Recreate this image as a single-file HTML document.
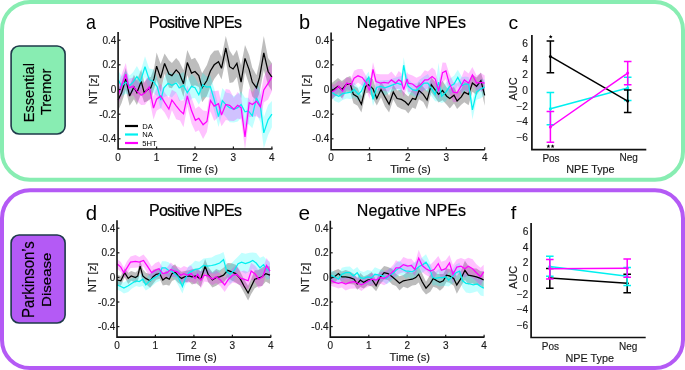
<!DOCTYPE html>
<html><head><meta charset="utf-8"><style>
html,body{margin:0;padding:0;background:#fff;overflow:hidden;width:685px;height:370px;}
svg{display:block;font-family:"Liberation Sans", sans-serif;will-change:transform;}
</style></head><body>
<svg width="685" height="370" viewBox="0 0 685 370">
<rect width="685" height="370" fill="#fff"/>
<rect x="2" y="2" width="681" height="177.7" rx="28" ry="28" fill="none" stroke="#88EDB2" stroke-width="4"/>
<rect x="2" y="190.3" width="681" height="177.7" rx="28" ry="28" fill="none" stroke="#B45AF5" stroke-width="4"/>
<rect x="11.1" y="46" width="54" height="88" rx="8" ry="8" fill="#88EDB2" stroke="#1E3A4A" stroke-width="1.6"/>
<rect x="11.1" y="235" width="54" height="88" rx="8" ry="8" fill="#B45AF5" stroke="#1E3A4A" stroke-width="1.6"/>
<text transform="translate(23.00,121.00) rotate(-90) translate(-1.17,10.75) scale(0.983,1)" font-size="14.83" fill="#000" stroke="#000" stroke-width="0.2">Essential</text>
<text transform="translate(41.30,114.80) rotate(-90) translate(-0.29,9.66) scale(1.040,1)" font-size="14.00" fill="#000" stroke="#000" stroke-width="0.2">Tremor</text>
<text transform="translate(22.90,316.70) rotate(-90) translate(-1.19,11.54) scale(0.935,1)" font-size="15.92" fill="#000" stroke="#000" stroke-width="0.2">Parkinson’s</text>
<text transform="translate(41.20,305.70) rotate(-90) translate(-1.20,9.57) scale(1.139,1)" font-size="13.20" fill="#000" stroke="#000" stroke-width="0.2">Disease</text>
<polygon points="118.1,89.2 121.6,82.4 125.8,67.9 129.6,86.3 133.9,74.8 136.9,80.3 141.2,69.5 144.2,82.8 147.7,78.0 150.8,77.1 154.2,67.6 156.6,52.5 160.6,64.1 164.6,53.4 168.9,60.3 171.9,62.9 176.2,58.1 179.2,61.6 183.5,70.3 187.3,50.1 191.5,59.4 195.0,57.8 198.8,64.2 202.1,73.3 206.9,64.9 210.4,55.3 214.2,50.7 218.5,50.3 221.5,57.0 225.8,35.9 229.6,50.4 233.1,55.9 236.9,49.8 241.1,65.6 245.0,44.9 249.2,55.0 252.3,67.7 256.5,75.2 259.6,61.7 263.8,35.9 268.1,58.1 271.9,63.3 271.9,91.1 268.1,84.9 263.8,69.9 259.6,92.6 256.5,100.4 252.3,96.5 249.2,84.8 245.0,72.0 241.1,98.6 236.9,77.0 233.1,82.2 229.6,83.0 225.8,60.1 221.5,79.6 218.5,73.2 214.2,79.0 210.4,86.7 206.9,96.1 202.1,102.2 198.8,86.9 195.0,85.2 191.5,86.8 187.3,75.1 183.5,97.1 179.2,84.6 176.2,81.7 171.9,88.2 168.9,87.6 164.6,73.4 160.6,92.0 156.6,79.7 154.2,88.7 150.8,98.7 147.7,101.0 144.2,102.6 141.2,93.2 136.9,105.1 133.9,99.3 129.6,105.7 125.8,89.9 121.6,103.0 118.1,110.7" fill="#000000" fill-opacity="0.26" stroke="none"/>
<polygon points="118.1,70.2 121.6,76.4 125.8,70.8 129.6,75.6 133.1,72.2 136.9,66.1 140.4,72.3 145.0,56.3 149.2,68.6 153.5,69.6 157.3,77.9 160.8,89.9 163.9,78.6 168.1,71.0 171.9,73.5 176.2,73.5 179.2,74.5 183.5,72.0 187.3,80.5 191.5,74.1 195.0,77.3 198.8,84.9 202.7,72.8 206.5,76.8 210.4,75.8 214.2,88.4 218.5,106.2 222.3,88.0 226.5,92.8 229.6,93.3 233.8,96.3 237.7,94.0 241.1,91.4 245.0,97.8 248.4,97.8 252.3,103.5 256.5,82.0 260.4,90.0 263.8,117.4 268.1,105.0 271.9,101.0 271.9,127.3 268.1,134.9 263.8,148.4 260.4,122.3 256.5,114.0 252.3,128.3 248.4,124.1 245.0,125.9 241.1,117.7 237.7,121.5 233.8,122.4 229.6,122.2 226.5,117.7 222.3,112.9 218.5,127.0 214.2,110.8 210.4,97.6 206.5,97.3 202.7,97.1 198.8,104.7 195.0,98.0 191.5,98.5 187.3,105.0 183.5,98.9 179.2,101.2 176.2,92.4 171.9,97.4 168.1,95.6 163.9,97.2 160.8,110.1 157.3,96.2 153.5,93.1 149.2,90.6 145.0,77.1 140.4,90.5 136.9,87.0 133.1,92.3 129.6,95.3 125.8,93.4 121.6,96.2 118.1,89.1" fill="#00FFFF" fill-opacity="0.24" stroke="none"/>
<polygon points="118.1,84.4 121.6,74.6 125.8,63.1 128.9,78.8 133.1,77.6 136.9,80.9 141.2,85.3 145.0,80.6 149.2,75.3 153.5,96.6 156.6,87.8 160.8,84.0 164.6,92.5 168.9,97.7 171.9,89.7 176.2,92.3 180.0,100.6 183.5,100.5 187.3,85.8 191.5,97.5 195.4,108.7 198.8,106.3 203.1,110.6 206.9,111.1 210.4,89.7 214.2,91.3 218.5,90.6 221.5,103.8 225.8,89.0 229.6,89.8 233.8,97.8 237.7,92.1 241.1,95.9 245.0,124.1 249.2,88.3 252.3,92.3 256.5,86.1 260.4,95.0 263.8,77.3 268.1,67.3 271.9,63.2 271.9,91.2 268.1,99.4 263.8,102.5 260.4,118.8 256.5,116.3 252.3,116.8 249.2,117.3 245.0,149.8 241.1,119.6 237.7,118.5 233.8,120.9 229.6,120.7 225.8,120.1 221.5,126.2 218.5,116.7 214.2,120.9 210.4,111.2 206.9,132.0 203.1,138.9 198.8,130.3 195.4,131.9 191.5,123.6 187.3,106.3 183.5,127.3 180.0,120.6 176.2,119.3 171.9,110.2 168.9,120.3 164.6,112.4 160.8,108.0 156.6,110.7 153.5,119.6 149.2,98.8 145.0,104.8 141.2,105.1 136.9,101.3 133.1,95.0 128.9,97.0 125.8,85.0 121.6,96.2 118.1,104.4" fill="#FF00FF" fill-opacity="0.24" stroke="none"/>
<polyline points="118.1,100.0 121.6,92.7 125.8,78.9 129.6,96.0 133.9,87.0 136.9,92.7 141.2,81.4 144.2,92.7 147.7,89.5 150.8,87.9 154.2,78.2 156.6,66.1 160.6,78.0 164.6,63.4 168.9,74.0 171.9,75.6 176.2,69.9 179.2,73.1 183.5,83.7 187.3,62.6 191.5,73.1 195.0,71.5 198.8,75.6 202.1,87.8 206.9,80.5 210.4,71.0 214.2,64.8 218.5,61.8 221.5,68.3 225.8,48.0 229.6,66.7 233.1,69.0 236.9,63.4 241.1,82.1 245.0,58.4 249.2,69.9 252.3,82.1 256.5,87.8 259.6,77.2 263.8,52.9 268.1,71.5 271.9,77.2" fill="none" stroke="#000000" stroke-width="1.25" stroke-linejoin="miter" stroke-miterlimit="3"/>
<polyline points="118.1,79.6 121.6,86.3 125.8,82.1 129.6,85.4 133.1,82.2 136.9,76.6 140.4,81.4 145.0,66.7 149.2,79.6 153.5,81.4 157.3,87.0 160.8,100.0 163.9,87.9 168.1,83.3 171.9,85.4 176.2,83.0 179.2,87.9 183.5,85.4 187.3,92.7 191.5,86.3 195.0,87.7 198.8,94.8 202.7,84.9 206.5,87.0 210.4,86.7 214.2,99.6 218.5,116.6 222.3,100.5 226.5,105.3 229.6,107.7 233.8,109.3 237.7,107.7 241.1,104.5 245.0,111.8 248.4,110.9 252.3,115.9 256.5,98.0 260.4,106.1 263.8,132.9 268.1,119.9 271.9,114.2" fill="none" stroke="#00F0F0" stroke-width="1.25" stroke-linejoin="miter" stroke-miterlimit="3"/>
<polyline points="118.1,94.4 121.6,85.4 125.8,74.1 128.9,87.9 133.1,86.3 136.9,91.1 141.2,95.2 145.0,92.7 149.2,87.0 153.5,108.1 156.6,99.2 160.8,96.0 164.6,102.4 168.9,109.0 171.9,100.0 176.2,105.8 180.0,110.6 183.5,113.9 187.3,96.0 191.5,110.6 195.4,120.3 198.8,118.3 203.1,124.7 206.9,121.5 210.4,100.5 214.2,106.1 218.5,103.7 221.5,115.0 225.8,104.5 229.6,105.3 233.8,109.3 237.7,105.3 241.1,107.7 245.0,137.0 249.2,102.8 252.3,104.5 256.5,101.2 260.4,106.9 263.8,89.9 268.1,83.3 271.9,77.2" fill="none" stroke="#FF00FF" stroke-width="1.25" stroke-linejoin="miter" stroke-miterlimit="3"/>
<path d="M118.1,32.0 V149.0 H272.5" fill="none" stroke="#111" stroke-width="1.6"/>
<line x1="118.1" x2="120.5" y1="40.2" y2="40.2" stroke="#1a1a1a" stroke-width="1.2"/>
<line x1="118.1" x2="120.5" y1="64.8" y2="64.8" stroke="#1a1a1a" stroke-width="1.2"/>
<line x1="118.1" x2="120.5" y1="89.5" y2="89.5" stroke="#1a1a1a" stroke-width="1.2"/>
<line x1="118.1" x2="120.5" y1="114.2" y2="114.2" stroke="#1a1a1a" stroke-width="1.2"/>
<line x1="118.1" x2="120.5" y1="138.8" y2="138.8" stroke="#1a1a1a" stroke-width="1.2"/>
<line x1="156.6" x2="156.6" y1="149.0" y2="146.6" stroke="#1a1a1a" stroke-width="1.2"/>
<line x1="195.0" x2="195.0" y1="149.0" y2="146.6" stroke="#1a1a1a" stroke-width="1.2"/>
<line x1="233.4" x2="233.4" y1="149.0" y2="146.6" stroke="#1a1a1a" stroke-width="1.2"/>
<line x1="271.9" x2="271.9" y1="149.0" y2="146.6" stroke="#1a1a1a" stroke-width="1.2"/>
<text x="116.4" y="43.7" font-size="10" text-anchor="end" fill="#1a1a1a" stroke="#1a1a1a" stroke-width="0.15">0.4</text>
<text x="116.4" y="68.3" font-size="10" text-anchor="end" fill="#1a1a1a" stroke="#1a1a1a" stroke-width="0.15">0.2</text>
<text x="116.4" y="93.0" font-size="10" text-anchor="end" fill="#1a1a1a" stroke="#1a1a1a" stroke-width="0.15">0</text>
<text x="116.4" y="117.7" font-size="10" text-anchor="end" fill="#1a1a1a" stroke="#1a1a1a" stroke-width="0.15">-0.2</text>
<text x="116.4" y="142.3" font-size="10" text-anchor="end" fill="#1a1a1a" stroke="#1a1a1a" stroke-width="0.15">-0.4</text>
<text x="118.1" y="160.7" font-size="10" text-anchor="middle" fill="#1a1a1a" stroke="#1a1a1a" stroke-width="0.15">0</text>
<text x="156.6" y="160.7" font-size="10" text-anchor="middle" fill="#1a1a1a" stroke="#1a1a1a" stroke-width="0.15">1</text>
<text x="195.0" y="160.7" font-size="10" text-anchor="middle" fill="#1a1a1a" stroke="#1a1a1a" stroke-width="0.15">2</text>
<text x="233.4" y="160.7" font-size="10" text-anchor="middle" fill="#1a1a1a" stroke="#1a1a1a" stroke-width="0.15">3</text>
<text x="271.9" y="160.7" font-size="10" text-anchor="middle" fill="#1a1a1a" stroke="#1a1a1a" stroke-width="0.15">4</text>
<text x="197.6" y="173.1" font-size="11.2" text-anchor="middle" fill="#1a1a1a" stroke="#1a1a1a" stroke-width="0.15">Time (s)</text>
<text transform="translate(96.6,89.5) rotate(-90)" font-size="11.2" text-anchor="middle" fill="#1a1a1a" stroke="#1a1a1a" stroke-width="0.15">NT [z]</text>
<text x="148.92" y="27.70" font-size="16" letter-spacing="-0.685" fill="#000" stroke="#000" stroke-width="0.2">Positive NPEs</text>
<text transform="translate(86.09,28.61) scale(0.918,1)" font-size="19.45" fill="#000" >a</text>
<line x1="125" x2="138" y1="126.0" y2="126.0" stroke="#000000" stroke-width="2.2"/>
<text x="142.3" y="128.8" font-size="7.6" fill="#000">DA</text>
<line x1="125" x2="138" y1="134.5" y2="134.5" stroke="#00F0F0" stroke-width="2.2"/>
<text x="142.3" y="137.3" font-size="7.6" fill="#000">NA</text>
<line x1="125" x2="138" y1="143.0" y2="143.0" stroke="#FF00FF" stroke-width="2.2"/>
<text x="142.3" y="145.8" font-size="7.6" fill="#000">5HT</text>
<polygon points="331.1,83.6 334.6,80.8 338.0,78.1 341.9,81.0 346.1,77.7 350.3,75.9 353.4,85.5 357.6,88.0 361.4,96.2 365.7,79.3 368.7,76.9 373.0,79.3 376.8,91.5 381.0,82.0 384.9,87.3 389.1,96.1 393.3,84.6 397.1,90.6 401.4,89.6 405.2,93.7 408.3,96.6 412.5,89.4 415.6,89.6 419.0,81.7 423.3,86.9 427.1,90.9 431.3,77.2 434.4,81.0 438.6,86.3 442.5,80.7 446.7,87.6 449.8,88.6 454.0,87.1 457.1,92.8 461.3,89.0 464.3,81.8 468.6,83.6 472.4,74.4 476.6,77.5 480.9,72.5 484.7,84.9 484.7,105.7 480.9,88.7 476.6,95.1 472.4,91.8 468.6,105.3 464.3,102.3 461.3,104.8 457.1,109.1 454.0,103.5 449.8,108.4 446.7,104.7 442.5,100.3 438.6,102.5 434.4,96.5 431.3,92.2 427.1,109.3 423.3,102.0 419.0,99.3 415.6,109.1 412.5,107.6 408.3,113.4 405.2,109.9 401.4,109.1 397.1,106.4 393.3,99.6 389.1,112.5 384.9,106.5 381.0,97.3 376.8,105.5 373.0,98.3 368.7,92.4 365.7,93.3 361.4,112.4 357.6,105.8 353.4,103.3 350.3,92.0 346.1,91.7 341.9,98.3 338.0,94.5 334.6,96.7 331.1,100.6" fill="#000000" fill-opacity="0.26" stroke="none"/>
<polygon points="331.1,85.8 334.6,87.8 338.8,89.6 342.6,87.4 346.8,87.1 351.1,84.9 354.1,82.2 358.4,87.8 361.4,84.6 364.9,77.0 368.7,71.6 373.0,92.8 376.8,80.1 381.0,80.4 384.9,80.1 389.1,79.9 393.3,78.2 397.1,77.1 401.4,76.1 403.7,57.3 406.7,73.7 408.3,78.6 412.5,83.4 416.7,83.4 419.8,79.6 424.0,76.5 427.9,74.1 432.1,82.2 435.2,87.6 438.6,62.8 441.7,89.3 445.9,82.8 449.8,78.4 454.0,75.7 457.8,69.7 462.0,77.3 465.1,76.6 468.6,77.0 472.4,100.3 476.6,84.4 480.9,79.3 484.7,79.4 484.7,94.9 480.9,98.2 476.6,99.8 472.4,119.4 468.6,90.9 465.1,91.3 462.0,93.8 457.8,85.2 454.0,92.2 449.8,94.2 445.9,101.3 441.7,103.0 438.6,101.4 435.2,101.3 432.1,97.0 427.9,92.1 424.0,89.7 419.8,94.7 416.7,97.6 412.5,95.8 408.3,94.0 406.7,90.5 403.7,73.2 401.4,93.3 397.1,89.1 393.3,91.2 389.1,92.7 384.9,95.7 381.0,92.2 376.8,94.3 373.0,105.9 368.7,82.7 364.9,89.2 361.4,97.9 358.4,101.1 354.1,96.8 351.1,99.3 346.8,98.6 342.6,100.0 338.8,102.7 334.6,101.1 331.1,96.6" fill="#00FFFF" fill-opacity="0.24" stroke="none"/>
<polygon points="331.1,84.2 334.6,84.5 338.8,80.6 342.6,83.0 346.8,76.9 351.1,78.6 354.1,70.7 358.0,69.0 362.2,69.1 366.4,76.5 369.5,81.9 373.0,62.3 376.0,73.7 380.3,74.3 384.1,74.2 388.3,74.2 391.4,71.6 395.6,76.5 398.7,70.9 401.4,73.3 403.7,82.2 407.1,71.9 408.3,74.1 412.5,75.6 416.5,77.7 420.6,75.7 424.8,70.2 427.9,71.4 432.1,67.6 435.2,70.2 438.6,83.5 442.5,62.6 445.9,62.8 449.0,72.8 453.2,81.9 457.1,83.5 461.3,77.8 464.3,69.9 468.6,73.6 472.4,66.9 476.6,75.5 480.9,73.1 484.7,75.4 484.7,90.8 480.9,91.6 476.6,90.7 472.4,83.0 468.6,92.6 464.3,89.8 461.3,93.3 457.1,102.1 453.2,102.3 449.0,91.9 445.9,78.9 442.5,82.6 438.6,99.0 435.2,87.8 432.1,85.6 427.9,88.4 424.8,89.5 420.6,93.7 416.5,96.6 412.5,92.3 408.3,92.1 407.1,86.1 403.7,97.0 401.4,89.7 398.7,88.8 395.6,89.6 391.4,88.2 388.3,92.0 384.1,90.5 380.3,91.8 376.0,89.3 373.0,76.3 369.5,99.1 366.4,89.7 362.2,85.7 358.0,82.6 354.1,85.8 351.1,90.8 346.8,89.3 342.6,99.4 338.8,92.0 334.6,96.4 331.1,100.0" fill="#FF00FF" fill-opacity="0.24" stroke="none"/>
<polyline points="331.1,92.1 334.6,88.8 338.0,86.3 341.9,89.6 346.1,84.7 350.3,84.0 353.4,94.4 357.6,96.9 361.4,104.3 365.7,86.3 368.7,84.7 373.0,88.8 376.8,98.5 381.0,89.6 384.9,96.9 389.1,104.3 393.3,92.1 397.1,98.5 401.4,99.4 405.2,101.8 408.3,105.0 412.5,98.5 415.6,99.4 419.0,90.5 423.3,94.4 427.1,100.1 431.3,84.7 434.4,88.8 438.6,94.4 442.5,90.5 446.7,96.2 449.8,98.5 454.0,95.3 457.1,101.0 461.3,96.9 464.3,92.1 468.6,94.4 472.4,83.1 476.6,86.3 480.9,80.6 484.7,95.3" fill="none" stroke="#000000" stroke-width="1.25" stroke-linejoin="miter" stroke-miterlimit="3"/>
<polyline points="331.1,91.2 334.6,94.4 338.8,96.2 342.6,93.7 346.8,92.8 351.1,92.1 354.1,89.5 358.4,94.4 361.4,91.2 364.9,83.1 368.7,77.2 373.0,99.4 376.8,87.2 381.0,86.3 384.9,87.9 389.1,86.3 393.3,84.7 397.1,83.1 401.4,84.7 403.7,65.2 406.7,82.1 408.3,86.3 412.5,89.6 416.7,90.5 419.8,87.2 424.0,83.1 427.9,83.1 432.1,89.6 435.2,94.4 438.6,82.1 441.7,96.2 445.9,92.1 449.8,86.3 454.0,84.0 457.8,77.4 462.0,85.6 465.1,84.0 468.6,84.0 472.4,109.8 476.6,92.1 480.9,88.8 484.7,87.2" fill="none" stroke="#00F0F0" stroke-width="1.25" stroke-linejoin="miter" stroke-miterlimit="3"/>
<polyline points="331.1,92.1 334.6,90.5 338.8,86.3 342.6,91.2 346.8,83.1 351.1,84.7 354.1,78.3 358.0,75.8 362.2,77.4 366.4,83.1 369.5,90.5 373.0,69.3 376.0,81.5 380.3,83.1 384.1,82.4 388.3,83.1 391.4,79.9 395.6,83.1 398.7,79.9 401.4,81.5 403.7,89.6 407.1,79.0 408.3,83.1 412.5,84.0 416.5,87.2 420.6,84.7 424.8,79.9 427.9,79.9 432.1,76.6 435.2,79.0 438.6,91.2 442.5,72.6 445.9,70.9 449.0,82.4 453.2,92.1 457.1,92.8 461.3,85.6 464.3,79.9 468.6,83.1 472.4,75.0 476.6,83.1 480.9,82.4 484.7,83.1" fill="none" stroke="#FF00FF" stroke-width="1.25" stroke-linejoin="miter" stroke-miterlimit="3"/>
<path d="M331.1,32.6 V149.7 H484.8" fill="none" stroke="#111" stroke-width="1.6"/>
<line x1="331.1" x2="333.5" y1="40.2" y2="40.2" stroke="#1a1a1a" stroke-width="1.2"/>
<line x1="331.1" x2="333.5" y1="64.8" y2="64.8" stroke="#1a1a1a" stroke-width="1.2"/>
<line x1="331.1" x2="333.5" y1="89.5" y2="89.5" stroke="#1a1a1a" stroke-width="1.2"/>
<line x1="331.1" x2="333.5" y1="114.2" y2="114.2" stroke="#1a1a1a" stroke-width="1.2"/>
<line x1="331.1" x2="333.5" y1="138.8" y2="138.8" stroke="#1a1a1a" stroke-width="1.2"/>
<line x1="369.5" x2="369.5" y1="149.7" y2="147.3" stroke="#1a1a1a" stroke-width="1.2"/>
<line x1="407.9" x2="407.9" y1="149.7" y2="147.3" stroke="#1a1a1a" stroke-width="1.2"/>
<line x1="446.3" x2="446.3" y1="149.7" y2="147.3" stroke="#1a1a1a" stroke-width="1.2"/>
<line x1="484.7" x2="484.7" y1="149.7" y2="147.3" stroke="#1a1a1a" stroke-width="1.2"/>
<text x="329.4" y="43.7" font-size="10" text-anchor="end" fill="#1a1a1a" stroke="#1a1a1a" stroke-width="0.15">0.4</text>
<text x="329.4" y="68.3" font-size="10" text-anchor="end" fill="#1a1a1a" stroke="#1a1a1a" stroke-width="0.15">0.2</text>
<text x="329.4" y="93.0" font-size="10" text-anchor="end" fill="#1a1a1a" stroke="#1a1a1a" stroke-width="0.15">0</text>
<text x="329.4" y="117.7" font-size="10" text-anchor="end" fill="#1a1a1a" stroke="#1a1a1a" stroke-width="0.15">-0.2</text>
<text x="329.4" y="142.3" font-size="10" text-anchor="end" fill="#1a1a1a" stroke="#1a1a1a" stroke-width="0.15">-0.4</text>
<text x="331.1" y="161.4" font-size="10" text-anchor="middle" fill="#1a1a1a" stroke="#1a1a1a" stroke-width="0.15">0</text>
<text x="369.5" y="161.4" font-size="10" text-anchor="middle" fill="#1a1a1a" stroke="#1a1a1a" stroke-width="0.15">1</text>
<text x="407.9" y="161.4" font-size="10" text-anchor="middle" fill="#1a1a1a" stroke="#1a1a1a" stroke-width="0.15">2</text>
<text x="446.3" y="161.4" font-size="10" text-anchor="middle" fill="#1a1a1a" stroke="#1a1a1a" stroke-width="0.15">3</text>
<text x="484.7" y="161.4" font-size="10" text-anchor="middle" fill="#1a1a1a" stroke="#1a1a1a" stroke-width="0.15">4</text>
<text x="410.5" y="173.1" font-size="11.2" text-anchor="middle" fill="#1a1a1a" stroke="#1a1a1a" stroke-width="0.15">Time (s)</text>
<text transform="translate(309.6,89.5) rotate(-90)" font-size="11.2" text-anchor="middle" fill="#1a1a1a" stroke="#1a1a1a" stroke-width="0.15">NT [z]</text>
<text x="356.82" y="27.70" font-size="16" letter-spacing="0.063" fill="#000" stroke="#000" stroke-width="0.2">Negative NPEs</text>
<text transform="translate(298.90,28.80) scale(1.021,1)" font-size="19.59" fill="#000" >b</text>
<polygon points="117.0,274.7 120.8,276.0 124.7,268.3 128.2,272.7 131.2,271.0 135.5,272.6 137.8,270.5 140.1,260.2 142.8,269.2 145.8,272.7 150.1,273.9 153.1,269.8 156.2,268.8 159.7,268.4 162.8,274.6 166.2,270.6 169.3,272.7 172.0,266.2 175.1,264.3 178.1,269.0 181.6,271.7 184.7,271.1 188.9,270.3 192.0,269.2 196.2,268.6 200.8,271.5 205.1,258.9 208.1,266.7 212.4,272.3 216.2,269.0 219.7,270.4 223.5,267.7 227.7,263.1 231.6,263.2 235.8,264.7 240.0,271.2 243.9,279.0 248.1,285.7 251.2,278.9 254.7,270.2 257.7,270.3 262.0,267.6 265.8,265.7 270.0,266.5 270.0,283.9 265.8,281.5 262.0,286.0 257.7,286.4 254.7,288.3 251.2,294.1 248.1,300.4 243.9,292.6 240.0,285.6 235.8,282.5 231.6,280.5 227.7,277.4 223.5,282.7 219.7,283.2 216.2,285.8 212.4,287.6 208.1,282.0 205.1,273.5 200.8,287.0 196.2,283.3 192.0,284.4 188.9,281.5 184.7,282.4 181.6,285.1 178.1,282.8 175.1,279.4 172.0,280.9 169.3,285.8 166.2,284.7 162.8,285.4 159.7,278.8 156.2,279.8 153.1,283.8 150.1,287.8 145.8,284.1 142.8,282.7 140.1,272.2 137.8,281.3 135.5,282.7 131.2,280.8 128.2,284.1 124.7,277.2 120.8,285.7 117.0,285.2" fill="#000000" fill-opacity="0.26" stroke="none"/>
<polygon points="117.0,280.3 120.8,281.7 123.9,282.6 128.2,279.6 132.0,278.2 136.2,275.7 139.3,276.1 142.8,272.5 145.8,279.4 148.9,274.7 153.1,271.5 156.2,271.1 159.7,267.6 162.0,261.2 165.4,261.2 168.5,262.2 172.0,265.2 175.1,268.5 178.1,268.6 182.4,279.5 185.4,271.9 188.9,265.8 192.0,264.0 195.1,260.8 199.3,261.8 203.5,258.5 207.4,258.1 211.6,257.4 215.4,255.2 219.7,253.9 223.5,251.9 227.0,264.4 230.0,264.9 234.3,260.2 238.1,256.6 241.6,252.7 245.4,253.8 249.7,252.7 252.7,252.5 256.2,252.9 260.0,257.8 263.5,256.3 266.6,259.7 270.0,261.8 270.0,278.8 266.6,279.4 263.5,272.9 260.0,277.8 256.2,273.1 252.7,268.6 249.7,271.6 245.4,273.7 241.6,271.6 238.1,270.9 234.3,280.3 230.0,283.8 227.0,279.3 223.5,267.5 219.7,272.2 215.4,274.0 211.6,273.6 207.4,274.3 203.5,272.4 199.3,275.5 195.1,278.3 192.0,278.2 188.9,279.7 185.4,284.9 182.4,293.5 178.1,285.0 175.1,280.1 172.0,277.1 168.5,278.3 165.4,274.4 162.0,274.4 159.7,281.0 156.2,282.5 153.1,285.2 148.9,288.5 145.8,290.4 142.8,286.0 139.3,287.1 136.2,286.0 132.0,288.5 128.2,292.0 123.9,293.6 120.8,291.3 117.0,289.5" fill="#00FFFF" fill-opacity="0.24" stroke="none"/>
<polygon points="117.0,259.1 120.8,262.0 123.9,267.5 127.0,261.3 130.5,256.4 135.5,255.1 139.3,257.0 143.5,254.5 147.4,259.3 151.6,266.5 155.4,263.0 158.9,261.5 162.8,267.5 167.0,267.4 170.8,262.4 174.3,265.4 177.4,266.4 180.8,267.9 183.9,265.9 187.4,267.5 191.2,265.5 194.3,271.1 195.1,272.4 197.7,268.2 200.8,271.6 204.3,269.0 208.1,269.5 212.4,273.2 216.2,270.6 220.4,273.7 224.7,277.7 228.5,272.5 232.7,268.0 236.6,265.3 240.8,271.4 243.9,270.4 248.1,272.1 251.2,262.8 255.4,265.9 258.5,270.2 262.7,268.2 266.6,257.9 270.0,263.2 270.0,279.1 266.6,273.1 262.7,285.4 258.5,288.3 255.4,282.7 251.2,279.4 248.1,289.6 243.9,288.1 240.8,285.3 236.6,283.4 232.7,282.4 228.5,286.0 224.7,292.1 220.4,286.3 216.2,283.0 212.4,285.3 208.1,282.3 204.3,281.4 200.8,288.4 197.7,280.4 195.1,284.4 194.3,283.7 191.2,281.7 187.4,282.9 183.9,281.2 180.8,282.5 177.4,277.4 174.3,276.9 170.8,276.7 167.0,278.1 162.8,279.7 158.9,275.9 155.4,277.5 151.6,279.0 147.4,273.1 143.5,266.6 139.3,267.3 135.5,267.8 130.5,267.9 127.0,274.4 123.9,278.0 120.8,272.1 117.0,268.4" fill="#FF00FF" fill-opacity="0.24" stroke="none"/>
<polyline points="117.0,280.0 120.8,280.8 124.7,272.7 128.2,278.4 131.2,275.9 135.5,277.6 137.8,275.9 140.1,266.2 142.8,275.9 145.8,278.4 150.1,280.8 153.1,276.8 156.2,274.3 159.7,273.6 162.8,280.0 166.2,277.6 169.3,279.2 172.0,273.6 175.1,271.9 178.1,275.9 181.6,278.4 184.7,276.8 188.9,275.9 192.0,276.8 196.2,275.9 200.8,279.2 205.1,266.2 208.1,274.3 212.4,280.0 216.2,277.4 219.7,276.8 223.5,275.2 227.7,270.3 231.6,271.9 235.8,273.6 240.0,278.4 243.9,285.8 248.1,293.0 251.2,286.5 254.7,279.2 257.7,278.4 262.0,276.8 265.8,273.6 270.0,275.2" fill="none" stroke="#000000" stroke-width="1.25" stroke-linejoin="miter" stroke-miterlimit="3"/>
<polyline points="117.0,284.9 120.8,286.5 123.9,288.1 128.2,285.8 132.0,283.3 136.2,280.8 139.3,281.6 142.8,279.2 145.8,284.9 148.9,281.6 153.1,278.4 156.2,276.8 159.7,274.3 162.0,267.8 165.4,267.8 168.5,270.3 172.0,271.1 175.1,274.3 178.1,276.8 182.4,286.5 185.4,278.4 188.9,272.7 192.0,271.1 195.1,269.5 199.3,268.7 203.5,265.5 207.4,266.2 211.6,265.5 215.4,264.6 219.7,263.0 223.5,259.7 227.0,271.9 230.0,274.3 234.3,270.3 238.1,263.7 241.6,262.1 245.4,263.7 249.7,262.1 252.7,260.5 256.2,263.0 260.0,267.8 263.5,264.6 266.6,269.5 270.0,270.3" fill="none" stroke="#00F0F0" stroke-width="1.25" stroke-linejoin="miter" stroke-miterlimit="3"/>
<polyline points="117.0,263.7 120.8,267.1 123.9,272.7 127.0,267.8 130.5,262.1 135.5,261.4 139.3,262.1 143.5,260.5 147.4,266.2 151.6,272.7 155.4,270.3 158.9,268.7 162.8,273.6 167.0,272.7 170.8,269.5 174.3,271.1 177.4,271.9 180.8,275.2 183.9,273.6 187.4,275.2 191.2,273.6 194.3,277.4 195.1,278.4 197.7,274.3 200.8,280.0 204.3,275.2 208.1,275.9 212.4,279.2 216.2,276.8 220.4,280.0 224.7,284.9 228.5,279.2 232.7,275.2 236.6,274.3 240.8,278.4 243.9,279.2 248.1,280.8 251.2,271.1 255.4,274.3 258.5,279.2 262.7,276.8 266.6,265.5 270.0,271.1" fill="none" stroke="#FF00FF" stroke-width="1.25" stroke-linejoin="miter" stroke-miterlimit="3"/>
<path d="M117.0,220.3 V337.1 H271.3" fill="none" stroke="#111" stroke-width="1.6"/>
<line x1="117.0" x2="119.4" y1="228.2" y2="228.2" stroke="#1a1a1a" stroke-width="1.2"/>
<line x1="117.0" x2="119.4" y1="252.8" y2="252.8" stroke="#1a1a1a" stroke-width="1.2"/>
<line x1="117.0" x2="119.4" y1="277.4" y2="277.4" stroke="#1a1a1a" stroke-width="1.2"/>
<line x1="117.0" x2="119.4" y1="302.0" y2="302.0" stroke="#1a1a1a" stroke-width="1.2"/>
<line x1="117.0" x2="119.4" y1="326.6" y2="326.6" stroke="#1a1a1a" stroke-width="1.2"/>
<line x1="155.4" x2="155.4" y1="337.1" y2="334.7" stroke="#1a1a1a" stroke-width="1.2"/>
<line x1="193.9" x2="193.9" y1="337.1" y2="334.7" stroke="#1a1a1a" stroke-width="1.2"/>
<line x1="232.4" x2="232.4" y1="337.1" y2="334.7" stroke="#1a1a1a" stroke-width="1.2"/>
<line x1="270.8" x2="270.8" y1="337.1" y2="334.7" stroke="#1a1a1a" stroke-width="1.2"/>
<text x="115.3" y="231.7" font-size="10" text-anchor="end" fill="#1a1a1a" stroke="#1a1a1a" stroke-width="0.15">0.4</text>
<text x="115.3" y="256.3" font-size="10" text-anchor="end" fill="#1a1a1a" stroke="#1a1a1a" stroke-width="0.15">0.2</text>
<text x="115.3" y="280.9" font-size="10" text-anchor="end" fill="#1a1a1a" stroke="#1a1a1a" stroke-width="0.15">0</text>
<text x="115.3" y="305.5" font-size="10" text-anchor="end" fill="#1a1a1a" stroke="#1a1a1a" stroke-width="0.15">-0.2</text>
<text x="115.3" y="330.1" font-size="10" text-anchor="end" fill="#1a1a1a" stroke="#1a1a1a" stroke-width="0.15">-0.4</text>
<text x="117.0" y="348.8" font-size="10" text-anchor="middle" fill="#1a1a1a" stroke="#1a1a1a" stroke-width="0.15">0</text>
<text x="155.4" y="348.8" font-size="10" text-anchor="middle" fill="#1a1a1a" stroke="#1a1a1a" stroke-width="0.15">1</text>
<text x="193.9" y="348.8" font-size="10" text-anchor="middle" fill="#1a1a1a" stroke="#1a1a1a" stroke-width="0.15">2</text>
<text x="232.4" y="348.8" font-size="10" text-anchor="middle" fill="#1a1a1a" stroke="#1a1a1a" stroke-width="0.15">3</text>
<text x="270.8" y="348.8" font-size="10" text-anchor="middle" fill="#1a1a1a" stroke="#1a1a1a" stroke-width="0.15">4</text>
<text x="196.5" y="361.2" font-size="11.2" text-anchor="middle" fill="#1a1a1a" stroke="#1a1a1a" stroke-width="0.15">Time (s)</text>
<text transform="translate(95.5,277.4) rotate(-90)" font-size="11.2" text-anchor="middle" fill="#1a1a1a" stroke="#1a1a1a" stroke-width="0.15">NT [z]</text>
<text x="148.92" y="215.70" font-size="16" letter-spacing="-0.685" fill="#000" stroke="#000" stroke-width="0.2">Positive NPEs</text>
<text transform="translate(85.78,219.51) scale(1.058,1)" font-size="19.32" fill="#000" >d</text>
<polygon points="330.3,272.9 334.5,270.4 338.4,268.9 341.8,271.5 345.7,270.0 349.9,271.4 354.1,274.1 357.2,278.3 360.3,273.0 363.8,276.4 367.6,274.8 371.8,272.0 376.1,280.2 379.9,270.8 384.1,265.9 388.0,267.0 392.2,268.9 396.0,274.0 399.5,276.2 403.4,274.9 407.6,271.8 412.2,273.0 415.7,270.4 418.7,266.2 422.2,273.4 426.0,281.8 430.3,274.8 433.3,269.9 436.8,273.8 439.9,274.1 443.3,273.9 446.4,268.4 449.5,269.1 453.7,271.0 456.8,276.0 461.0,270.5 464.9,260.7 468.3,265.8 472.2,268.5 476.4,268.6 480.6,271.3 483.7,271.2 483.7,288.7 480.6,285.5 476.4,284.9 472.2,283.3 468.3,284.5 464.9,279.8 461.0,286.3 456.8,293.8 453.7,285.7 449.5,282.8 446.4,282.0 443.3,287.8 439.9,290.8 436.8,287.9 433.3,286.8 430.3,291.8 426.0,294.4 422.2,290.0 418.7,282.4 415.7,284.9 412.2,285.4 407.6,288.2 403.4,286.8 399.5,290.4 396.0,286.0 392.2,284.6 388.0,280.1 384.1,279.6 379.9,284.5 376.1,291.3 371.8,286.5 367.6,285.2 363.8,288.5 360.3,286.9 357.2,289.8 354.1,284.4 349.9,283.9 345.7,283.6 341.8,282.1 338.4,278.3 334.5,283.2 330.3,283.8" fill="#000000" fill-opacity="0.26" stroke="none"/>
<polygon points="330.3,269.9 334.5,271.7 338.4,274.2 341.8,267.7 345.7,266.7 349.9,266.4 353.4,269.8 357.2,266.9 360.3,271.0 363.8,272.0 367.6,269.9 371.8,270.9 374.9,267.2 379.1,268.9 383.4,270.2 386.4,272.6 389.5,268.0 393.0,267.7 396.0,263.1 399.5,260.6 402.6,263.7 406.0,263.4 408.4,265.3 412.2,263.8 415.7,261.5 419.5,259.7 423.0,256.7 426.0,254.2 429.5,261.4 432.6,269.7 435.7,271.9 439.1,268.9 442.2,269.4 445.7,267.7 448.7,273.4 453.0,268.6 456.0,264.4 459.5,262.8 462.6,273.7 466.0,274.0 469.9,274.8 473.3,277.2 477.2,276.8 480.6,277.6 483.7,279.9 483.7,296.3 480.6,295.4 477.2,291.3 473.3,292.6 469.9,293.3 466.0,292.6 462.6,288.0 459.5,279.5 456.0,281.0 453.0,283.3 448.7,286.5 445.7,285.9 442.2,285.9 439.1,286.4 435.7,284.9 432.6,285.6 429.5,274.2 426.0,270.1 423.0,272.5 419.5,272.7 415.7,277.6 412.2,279.9 408.4,277.0 406.0,278.8 402.6,275.4 399.5,275.0 396.0,277.4 393.0,279.5 389.5,282.4 386.4,284.2 383.4,281.7 379.1,281.5 374.9,281.5 371.8,284.3 367.6,283.7 363.8,284.7 360.3,284.3 357.2,278.5 353.4,282.0 349.9,279.0 345.7,278.7 341.8,280.9 338.4,284.3 334.5,281.9 330.3,280.5" fill="#00FFFF" fill-opacity="0.24" stroke="none"/>
<polygon points="330.3,274.2 334.5,277.8 338.4,278.1 341.8,277.3 345.7,277.7 349.9,276.2 354.1,274.7 358.0,278.1 361.4,278.9 364.5,278.2 368.8,275.2 371.8,272.9 376.1,274.7 379.9,271.9 384.1,271.5 387.2,270.1 390.7,267.6 393.7,264.2 396.0,260.3 399.5,262.2 403.4,256.9 407.6,258.7 411.4,258.8 414.9,263.3 418.7,249.7 422.2,258.6 426.0,262.4 430.3,264.8 434.1,261.1 438.3,255.9 441.4,261.8 445.7,260.3 449.5,255.1 453.0,265.1 456.8,259.5 461.0,258.0 464.9,259.6 468.3,257.7 472.6,259.3 476.4,264.2 480.6,267.7 483.7,264.8 483.7,279.0 480.6,285.8 476.4,281.3 472.6,278.0 468.3,274.7 464.9,277.7 461.0,274.4 456.8,274.7 453.0,283.6 449.5,270.9 445.7,277.1 441.4,278.8 438.3,271.6 434.1,278.0 430.3,277.5 426.0,275.0 422.2,272.3 418.7,266.5 414.9,275.8 411.4,272.2 407.6,273.7 403.4,272.3 399.5,273.5 396.0,275.4 393.7,278.1 390.7,279.6 387.2,283.5 384.1,285.3 379.9,283.4 376.1,285.3 371.8,285.6 368.8,286.5 364.5,288.4 361.4,290.9 358.0,288.5 354.1,288.4 349.9,288.7 345.7,290.4 341.8,287.6 338.4,288.5 334.5,287.1 330.3,285.8" fill="#FF00FF" fill-opacity="0.24" stroke="none"/>
<polyline points="330.3,278.4 334.5,276.8 338.4,273.6 341.8,276.8 345.7,276.8 349.9,277.6 354.1,279.2 357.2,284.0 360.3,280.0 363.8,282.4 367.6,280.0 371.8,279.2 376.1,285.8 379.9,277.6 384.1,272.7 388.0,273.6 392.2,276.8 396.0,280.0 399.5,283.3 403.4,280.8 407.6,280.0 412.2,279.2 415.7,277.6 418.7,274.3 422.2,281.7 426.0,288.1 430.3,283.3 433.3,278.4 436.8,280.8 439.9,282.4 443.3,280.8 446.4,275.2 449.5,275.9 453.7,278.4 456.8,284.9 461.0,278.4 464.9,270.3 468.3,275.2 472.2,275.9 476.4,276.8 480.6,278.4 483.7,280.0" fill="none" stroke="#000000" stroke-width="1.25" stroke-linejoin="miter" stroke-miterlimit="3"/>
<polyline points="330.3,275.2 334.5,276.8 338.4,279.2 341.8,274.3 345.7,272.7 349.9,272.7 353.4,275.9 357.2,272.7 360.3,277.6 363.8,278.4 367.6,276.8 371.8,277.6 374.9,274.3 379.1,275.2 383.4,275.9 386.4,278.4 389.5,275.2 393.0,273.6 396.0,270.3 399.5,267.8 402.6,269.5 406.0,271.1 408.4,271.1 412.2,271.9 415.7,269.5 419.5,266.2 423.0,264.6 426.0,262.1 429.5,267.8 432.6,277.6 435.7,278.4 439.1,277.6 442.2,277.6 445.7,276.8 448.7,280.0 453.0,275.9 456.0,272.7 459.5,271.1 462.6,280.8 466.0,283.3 469.9,284.0 473.3,284.9 477.2,284.0 480.6,286.5 483.7,288.1" fill="none" stroke="#00F0F0" stroke-width="1.25" stroke-linejoin="miter" stroke-miterlimit="3"/>
<polyline points="330.3,280.0 334.5,282.4 338.4,283.3 341.8,282.4 345.7,284.0 349.9,282.4 354.1,281.6 358.0,283.3 361.4,284.9 364.5,283.3 368.8,280.8 371.8,279.2 376.1,280.0 379.9,277.6 384.1,278.4 387.2,276.8 390.7,273.6 393.7,271.1 396.0,267.8 399.5,267.8 403.4,264.6 407.6,266.2 411.4,265.5 414.9,269.5 418.7,258.1 422.2,265.5 426.0,268.7 430.3,271.1 434.1,269.5 438.3,263.7 441.4,270.3 445.7,268.7 449.5,263.0 453.0,274.3 456.8,267.1 461.0,266.2 464.9,268.7 468.3,266.2 472.6,268.7 476.4,272.7 480.6,276.8 483.7,271.9" fill="none" stroke="#FF00FF" stroke-width="1.25" stroke-linejoin="miter" stroke-miterlimit="3"/>
<path d="M330.3,220.7 V337.1 H484.5" fill="none" stroke="#111" stroke-width="1.6"/>
<line x1="330.3" x2="332.7" y1="228.2" y2="228.2" stroke="#1a1a1a" stroke-width="1.2"/>
<line x1="330.3" x2="332.7" y1="252.8" y2="252.8" stroke="#1a1a1a" stroke-width="1.2"/>
<line x1="330.3" x2="332.7" y1="277.4" y2="277.4" stroke="#1a1a1a" stroke-width="1.2"/>
<line x1="330.3" x2="332.7" y1="302.0" y2="302.0" stroke="#1a1a1a" stroke-width="1.2"/>
<line x1="330.3" x2="332.7" y1="326.6" y2="326.6" stroke="#1a1a1a" stroke-width="1.2"/>
<line x1="368.8" x2="368.8" y1="337.1" y2="334.7" stroke="#1a1a1a" stroke-width="1.2"/>
<line x1="407.2" x2="407.2" y1="337.1" y2="334.7" stroke="#1a1a1a" stroke-width="1.2"/>
<line x1="445.7" x2="445.7" y1="337.1" y2="334.7" stroke="#1a1a1a" stroke-width="1.2"/>
<line x1="484.1" x2="484.1" y1="337.1" y2="334.7" stroke="#1a1a1a" stroke-width="1.2"/>
<text x="328.6" y="231.7" font-size="10" text-anchor="end" fill="#1a1a1a" stroke="#1a1a1a" stroke-width="0.15">0.4</text>
<text x="328.6" y="256.3" font-size="10" text-anchor="end" fill="#1a1a1a" stroke="#1a1a1a" stroke-width="0.15">0.2</text>
<text x="328.6" y="280.9" font-size="10" text-anchor="end" fill="#1a1a1a" stroke="#1a1a1a" stroke-width="0.15">0</text>
<text x="328.6" y="305.5" font-size="10" text-anchor="end" fill="#1a1a1a" stroke="#1a1a1a" stroke-width="0.15">-0.2</text>
<text x="328.6" y="330.1" font-size="10" text-anchor="end" fill="#1a1a1a" stroke="#1a1a1a" stroke-width="0.15">-0.4</text>
<text x="330.3" y="348.8" font-size="10" text-anchor="middle" fill="#1a1a1a" stroke="#1a1a1a" stroke-width="0.15">0</text>
<text x="368.8" y="348.8" font-size="10" text-anchor="middle" fill="#1a1a1a" stroke="#1a1a1a" stroke-width="0.15">1</text>
<text x="407.2" y="348.8" font-size="10" text-anchor="middle" fill="#1a1a1a" stroke="#1a1a1a" stroke-width="0.15">2</text>
<text x="445.7" y="348.8" font-size="10" text-anchor="middle" fill="#1a1a1a" stroke="#1a1a1a" stroke-width="0.15">3</text>
<text x="484.1" y="348.8" font-size="10" text-anchor="middle" fill="#1a1a1a" stroke="#1a1a1a" stroke-width="0.15">4</text>
<text x="409.8" y="361.2" font-size="11.2" text-anchor="middle" fill="#1a1a1a" stroke="#1a1a1a" stroke-width="0.15">Time (s)</text>
<text transform="translate(308.8,277.4) rotate(-90)" font-size="11.2" text-anchor="middle" fill="#1a1a1a" stroke="#1a1a1a" stroke-width="0.15">NT [z]</text>
<text x="356.82" y="215.70" font-size="16" letter-spacing="0.063" fill="#000" stroke="#000" stroke-width="0.2">Negative NPEs</text>
<text transform="translate(298.57,219.80) scale(1.024,1)" font-size="20.36" fill="#000" >e</text>
<path d="M531.9,34.9 V149.6 H646.3" fill="none" stroke="#111" stroke-width="1.7"/>
<text x="528.0" y="46.8" font-size="10.2" text-anchor="end" fill="#1a1a1a" stroke="#1a1a1a" stroke-width="0.15">6</text>
<text x="528.0" y="62.5" font-size="10.2" text-anchor="end" fill="#1a1a1a" stroke="#1a1a1a" stroke-width="0.15">4</text>
<text x="528.0" y="78.2" font-size="10.2" text-anchor="end" fill="#1a1a1a" stroke="#1a1a1a" stroke-width="0.15">2</text>
<text x="528.0" y="93.9" font-size="10.2" text-anchor="end" fill="#1a1a1a" stroke="#1a1a1a" stroke-width="0.15">0</text>
<text x="528.0" y="109.6" font-size="10.2" text-anchor="end" fill="#1a1a1a" stroke="#1a1a1a" stroke-width="0.15">−2</text>
<text x="528.0" y="125.3" font-size="10.2" text-anchor="end" fill="#1a1a1a" stroke="#1a1a1a" stroke-width="0.15">−4</text>
<text x="528.0" y="141.0" font-size="10.2" text-anchor="end" fill="#1a1a1a" stroke="#1a1a1a" stroke-width="0.15">−6</text>
<text x="551.0" y="161.7" font-size="10" text-anchor="middle" fill="#1a1a1a" stroke="#1a1a1a" stroke-width="0.15">Pos</text>
<text x="628.7" y="161.2" font-size="10" text-anchor="middle" fill="#1a1a1a" stroke="#1a1a1a" stroke-width="0.15">Neg</text>
<text x="590.4" y="173.1" font-size="10.8" text-anchor="middle" fill="#1a1a1a" stroke="#1a1a1a" stroke-width="0.15">NPE Type</text>
<text transform="translate(517.3,88.9) rotate(-90)" font-size="11" text-anchor="middle" fill="#1a1a1a" stroke="#1a1a1a" stroke-width="0.15">AUC</text>
<text transform="translate(508.53,29.02) scale(1.073,1)" font-size="18.00" fill="#000" >c</text>
<line x1="550.4" y1="108.7" x2="627.7" y2="88.0" stroke="#00F0F0" stroke-width="1.5"/>
<path d="M550.4,92.4 V124.8 M546.6,92.4 h7.6 M546.6,124.8 h7.6" stroke="#00F0F0" stroke-width="1.5" fill="none"/>
<circle cx="550.4" cy="108.7" r="1.5" fill="#00F0F0"/>
<path d="M627.7,77.3 V100.6 M623.9000000000001,77.3 h7.6 M623.9000000000001,100.6 h7.6" stroke="#00F0F0" stroke-width="1.5" fill="none"/>
<circle cx="627.7" cy="88.0" r="1.5" fill="#00F0F0"/>
<line x1="550.4" y1="56.4" x2="627.7" y2="101.1" stroke="#000000" stroke-width="1.5"/>
<path d="M550.4,40.9 V72.8 M546.6,40.9 h7.6 M546.6,72.8 h7.6" stroke="#000000" stroke-width="1.5" fill="none"/>
<circle cx="550.4" cy="56.4" r="1.5" fill="#000000"/>
<path d="M627.7,90.1 V112.5 M623.9000000000001,90.1 h7.6 M623.9000000000001,112.5 h7.6" stroke="#000000" stroke-width="1.5" fill="none"/>
<circle cx="627.7" cy="101.1" r="1.5" fill="#000000"/>
<line x1="550.4" y1="127.0" x2="627.7" y2="73.1" stroke="#FF00FF" stroke-width="1.5"/>
<path d="M550.4,111.4 V142.3 M546.6,111.4 h7.6 M546.6,142.3 h7.6" stroke="#FF00FF" stroke-width="1.5" fill="none"/>
<circle cx="550.4" cy="127.0" r="1.5" fill="#FF00FF"/>
<path d="M627.7,61.5 V84.8 M623.9000000000001,61.5 h7.6 M623.9000000000001,84.8 h7.6" stroke="#FF00FF" stroke-width="1.5" fill="none"/>
<circle cx="627.7" cy="73.1" r="1.5" fill="#FF00FF"/>
<polygon points="550.70,34.80 551.23,36.07 552.60,36.18 551.56,37.08 551.88,38.42 550.70,37.70 549.52,38.42 549.84,37.08 548.80,36.18 550.17,36.07" fill="#000"/>
<polygon points="548.40,144.30 548.93,145.57 550.30,145.68 549.26,146.58 549.58,147.92 548.40,147.20 547.22,147.92 547.54,146.58 546.50,145.68 547.87,145.57" fill="#000"/>
<polygon points="552.60,144.30 553.13,145.57 554.50,145.68 553.46,146.58 553.78,147.92 552.60,147.20 551.42,147.92 551.74,146.58 550.70,145.68 552.07,145.57" fill="#000"/>
<path d="M531.1,223.1 V337.5 H645.7" fill="none" stroke="#111" stroke-width="1.7"/>
<text x="528.3" y="234.8" font-size="10.2" text-anchor="end" fill="#1a1a1a" stroke="#1a1a1a" stroke-width="0.15">6</text>
<text x="528.3" y="250.5" font-size="10.2" text-anchor="end" fill="#1a1a1a" stroke="#1a1a1a" stroke-width="0.15">4</text>
<text x="528.3" y="266.2" font-size="10.2" text-anchor="end" fill="#1a1a1a" stroke="#1a1a1a" stroke-width="0.15">2</text>
<text x="528.3" y="281.9" font-size="10.2" text-anchor="end" fill="#1a1a1a" stroke="#1a1a1a" stroke-width="0.15">0</text>
<text x="528.3" y="297.6" font-size="10.2" text-anchor="end" fill="#1a1a1a" stroke="#1a1a1a" stroke-width="0.15">−2</text>
<text x="528.3" y="313.3" font-size="10.2" text-anchor="end" fill="#1a1a1a" stroke="#1a1a1a" stroke-width="0.15">−4</text>
<text x="528.3" y="329.0" font-size="10.2" text-anchor="end" fill="#1a1a1a" stroke="#1a1a1a" stroke-width="0.15">−6</text>
<text x="550.4" y="350.3" font-size="10" text-anchor="middle" fill="#1a1a1a" stroke="#1a1a1a" stroke-width="0.15">Pos</text>
<text x="628.2" y="349.8" font-size="10" text-anchor="middle" fill="#1a1a1a" stroke="#1a1a1a" stroke-width="0.15">Neg</text>
<text x="589.7" y="361.7" font-size="10.8" text-anchor="middle" fill="#1a1a1a" stroke="#1a1a1a" stroke-width="0.15">NPE Type</text>
<text transform="translate(516.5,277.3) rotate(-90)" font-size="11" text-anchor="middle" fill="#1a1a1a" stroke="#1a1a1a" stroke-width="0.15">AUC</text>
<text transform="translate(510.80,218.70) scale(1.082,1)" font-size="18.48" fill="#000" >f</text>
<line x1="549.8" y1="278.0" x2="627.2" y2="283.2" stroke="#000000" stroke-width="1.5"/>
<path d="M549.8,268.4 V288.2 M546.0,268.4 h7.6 M546.0,288.2 h7.6" stroke="#000000" stroke-width="1.5" fill="none"/>
<circle cx="549.8" cy="278.0" r="1.5" fill="#000000"/>
<path d="M627.2,274.3 V292.7 M623.4000000000001,274.3 h7.6 M623.4000000000001,292.7 h7.6" stroke="#000000" stroke-width="1.5" fill="none"/>
<circle cx="627.2" cy="283.2" r="1.5" fill="#000000"/>
<line x1="549.8" y1="266.6" x2="627.2" y2="276.3" stroke="#00F0F0" stroke-width="1.5"/>
<path d="M549.8,256.2 V276.3 M546.0,256.2 h7.6 M546.0,276.3 h7.6" stroke="#00F0F0" stroke-width="1.5" fill="none"/>
<circle cx="549.8" cy="266.6" r="1.5" fill="#00F0F0"/>
<path d="M627.2,267.6 V285.4 M623.4000000000001,267.6 h7.6 M623.4000000000001,285.4 h7.6" stroke="#00F0F0" stroke-width="1.5" fill="none"/>
<circle cx="627.2" cy="276.3" r="1.5" fill="#00F0F0"/>
<line x1="549.8" y1="268.8" x2="627.2" y2="268.3" stroke="#FF00FF" stroke-width="1.5"/>
<path d="M549.8,259.4 V278.9 M546.0,259.4 h7.6 M546.0,278.9 h7.6" stroke="#FF00FF" stroke-width="1.5" fill="none"/>
<circle cx="549.8" cy="268.8" r="1.5" fill="#FF00FF"/>
<path d="M627.2,258.9 V277.2 M623.4000000000001,258.9 h7.6 M623.4000000000001,277.2 h7.6" stroke="#FF00FF" stroke-width="1.5" fill="none"/>
<circle cx="627.2" cy="268.3" r="1.5" fill="#FF00FF"/>
</svg>
</body></html>
